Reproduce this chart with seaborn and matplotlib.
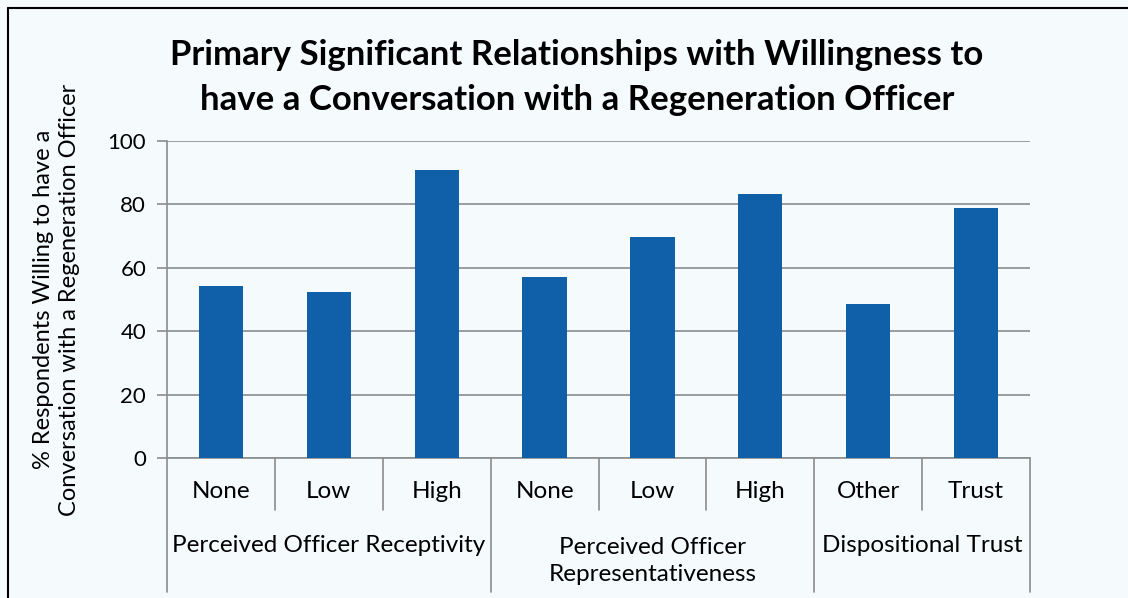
import matplotlib
matplotlib.use("Agg")
import matplotlib.pyplot as plt
import matplotlib.transforms as mtransforms
from matplotlib.lines import Line2D
import seaborn as sns
import pandas as pd

# ---- data ----
sub_labels = ["None", "Low", "High", "None", "Low", "High", "Other", "Trust"]
group_labels = ["Perceived Officer Receptivity",
                "Perceived Officer\nRepresentativeness",
                "Dispositional Trust"]
group_sizes = [3, 3, 2]
values = [54.3, 52.4, 90.7, 57.1, 69.7, 83.4, 48.6, 78.9]
yticks = [0, 20, 40, 60, 80, 100]

title = "Primary Significant Relationships with Willingness to\nhave a Conversation with a Regeneration Officer"
ylabel = "% Respondents Willing to have a\nConversation with a Regeneration Officer"

bg = "#F5FBFC"
bar_color = "#0F60A8"
grid_color = "#8C8C8C"

sns.set_theme(style="white")
plt.rcParams["font.family"] = ["Lato", "DejaVu Sans"]
plt.rcParams["text.color"] = "black"
plt.rcParams["axes.labelcolor"] = "black"
plt.rcParams["ytick.color"] = "black"

keys = [f"{i}" for i in range(len(values))]
df = pd.DataFrame({"key": keys, "value": values})

fig = plt.figure(figsize=(11.28, 5.98), dpi=100, facecolor=bg)
ax = fig.add_axes([167/1128, 1-458/598, (1030-167)/1128, (458-141)/598])
ax.set_facecolor(bg)

sns.barplot(data=df, x="key", y="value", color=bar_color, saturation=1,
            width=0.41, ax=ax, zorder=3)
for p in ax.patches:
    p.set_edgecolor("none")

ax.set_ylim(0, 100)
ax.set_xlim(-0.5, len(values) - 0.5)
ax.set_yticks(yticks)
ax.set_yticklabels([str(v) for v in yticks], fontsize=16, color="black")
ax.yaxis.grid(True, color=grid_color, linewidth=1.2, zorder=0)
ax.set_axisbelow(True)
ax.tick_params(axis="y", length=7, width=1.2, color=grid_color, labelcolor="black",
               pad=8, left=True)
ax.set_xticks([])
ax.set_xlabel("")
ax.set_ylabel(ylabel, fontsize=17, labelpad=20, linespacing=1.3, color="black")

for s in ["top", "right"]:
    ax.spines[s].set_visible(False)
for s in ["left", "bottom"]:
    ax.spines[s].set_color(grid_color)
    ax.spines[s].set_linewidth(1.2)

# multi-level category axis
trans = mtransforms.blended_transform_factory(ax.transData, fig.transFigure)
y_axis = 1 - 458/598
y_short = 1 - 510/598
y_long = 1 - 592/598
y_sub = 1 - 492/598
y_grp = 1 - 545/598

for i, lab in enumerate(sub_labels):
    ax.text(i, y_sub, lab, transform=trans, ha="center", va="center",
            fontsize=17.5, color="black", clip_on=False)

bounds = [0]
for g in group_sizes:
    bounds.append(bounds[-1] + g)
for i in range(1, len(values)):
    if i in bounds:
        continue
    ax.add_line(Line2D([i - 0.5, i - 0.5], [y_axis, y_short], transform=trans,
                       color=grid_color, linewidth=1.2, clip_on=False))
for b in bounds:
    ax.add_line(Line2D([b - 0.5, b - 0.5], [y_axis, y_long], transform=trans,
                       color=grid_color, linewidth=1.2, clip_on=False))

for gi, lab in enumerate(group_labels):
    center = (bounds[gi] + bounds[gi + 1] - 1) / 2
    ypos = 1 - 561/598 if "\n" in lab else y_grp
    ax.text(center, ypos, lab, transform=trans, ha="center", va="center",
            fontsize=17.5, color="black", clip_on=False, linespacing=1.35)

fig.suptitle(title, x=577/1128, y=1 - 39/598, va="top", fontsize=25,
             fontweight="bold", linespacing=1.5, color="black")

# figure border (top and left)
fig.add_artist(Line2D([8/1128, 8/1128], [0, 1 - 8/598], transform=fig.transFigure,
                      color="black", linewidth=1.5))
fig.add_artist(Line2D([8/1128, 1], [1 - 8/598, 1 - 8/598], transform=fig.transFigure,
                      color="black", linewidth=1.5))

fig.savefig("out.png", dpi=100, facecolor=bg)
